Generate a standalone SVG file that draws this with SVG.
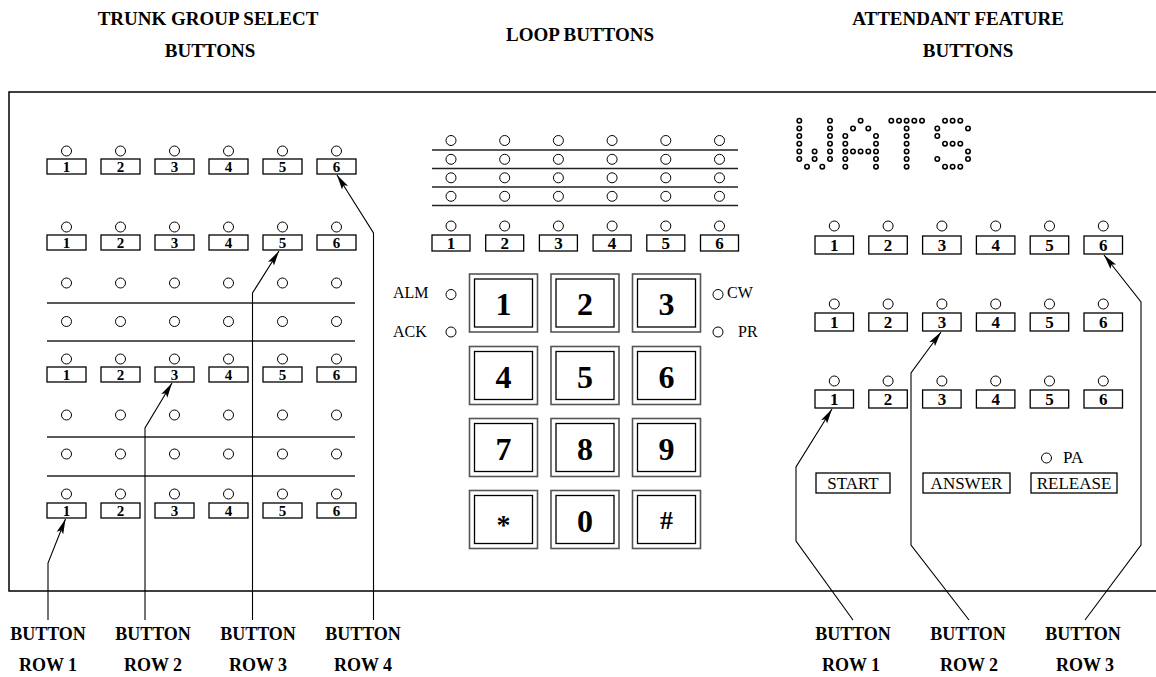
<svg xmlns="http://www.w3.org/2000/svg" width="1156" height="677" viewBox="0 0 1156 677">
<style>
.t{font-family:"Liberation Serif","Times New Roman",serif;font-weight:bold;fill:#000}
.r{font-family:"Liberation Serif","Times New Roman",serif;fill:#000}
.lamp{fill:#fff;stroke:#000;stroke-width:1}
.box{fill:#fff;stroke:#000;stroke-width:1.3}
.sep{stroke:#222;stroke-width:1.3;fill:none}
.ko{fill:#fff;stroke:#555;stroke-width:1.6}
.ki{fill:#fff;stroke:#000;stroke-width:1.3}
.dot{fill:#fff;stroke:#000;stroke-width:1.6}
.ld{fill:none;stroke:#000;stroke-width:1.1}
</style>
<defs>
<marker id="ah" markerUnits="userSpaceOnUse" markerWidth="16" markerHeight="8" refX="15" refY="4" orient="auto">
<path d="M0,0.5 L15,4 L0,7.5 L3,4 z" fill="#000"/>
</marker>
<g id="lp"><circle class="lamp" r="5"/></g>
</defs>
<rect width="1156" height="677" fill="#fff"/>

<g id="titles">
<text class="t" x="208" y="25" font-size="19" text-anchor="middle">TRUNK GROUP SELECT</text>
<text class="t" x="210" y="57" font-size="19" text-anchor="middle">BUTTONS</text>
<text class="t" x="580" y="41" font-size="19" text-anchor="middle">LOOP BUTTONS</text>
<text class="t" x="958" y="25" font-size="19" text-anchor="middle">ATTENDANT FEATURE</text>
<text class="t" x="968" y="57" font-size="19" text-anchor="middle">BUTTONS</text>
</g>

<g id="frame">
<path d="M1160,92 L9,92 L9,591 L1160,591" fill="none" stroke="#000" stroke-width="1.5"/>
</g>

<g id="trunk-buttons">
<g id="trunk-row1">
<use href="#lp" x="66.5" y="151"/><use href="#lp" x="120.5" y="151"/><use href="#lp" x="174.5" y="151"/><use href="#lp" x="228.5" y="151"/><use href="#lp" x="282.5" y="151"/><use href="#lp" x="336.5" y="151"/>
<rect class="box" x="47" y="159" width="39" height="15"/><rect class="box" x="101" y="159" width="39" height="15"/><rect class="box" x="155" y="159" width="39" height="15"/><rect class="box" x="209" y="159" width="39" height="15"/><rect class="box" x="263" y="159" width="39" height="15"/><rect class="box" x="317" y="159" width="39" height="15"/>
<g class="t" font-size="15" text-anchor="middle"><text x="66.5" y="172">1</text><text x="120.5" y="172">2</text><text x="174.5" y="172">3</text><text x="228.5" y="172">4</text><text x="282.5" y="172">5</text><text x="336.5" y="172">6</text></g>
</g>
<g id="trunk-row2">
<use href="#lp" x="66.5" y="227"/><use href="#lp" x="120.5" y="227"/><use href="#lp" x="174.5" y="227"/><use href="#lp" x="228.5" y="227"/><use href="#lp" x="282.5" y="227"/><use href="#lp" x="336.5" y="227"/>
<rect class="box" x="47" y="235" width="39" height="15"/><rect class="box" x="101" y="235" width="39" height="15"/><rect class="box" x="155" y="235" width="39" height="15"/><rect class="box" x="209" y="235" width="39" height="15"/><rect class="box" x="263" y="235" width="39" height="15"/><rect class="box" x="317" y="235" width="39" height="15"/>
<g class="t" font-size="15" text-anchor="middle"><text x="66.5" y="248">1</text><text x="120.5" y="248">2</text><text x="174.5" y="248">3</text><text x="228.5" y="248">4</text><text x="282.5" y="248">5</text><text x="336.5" y="248">6</text></g>
</g>
<g id="trunk-lamps-a">
<use href="#lp" x="66.5" y="283"/><use href="#lp" x="120.5" y="283"/><use href="#lp" x="174.5" y="283"/><use href="#lp" x="228.5" y="283"/><use href="#lp" x="282.5" y="283"/><use href="#lp" x="336.5" y="283"/>
<line class="sep" x1="47" y1="303" x2="355" y2="303"/>
<use href="#lp" x="66.5" y="321.5"/><use href="#lp" x="120.5" y="321.5"/><use href="#lp" x="174.5" y="321.5"/><use href="#lp" x="228.5" y="321.5"/><use href="#lp" x="282.5" y="321.5"/><use href="#lp" x="336.5" y="321.5"/>
<line class="sep" x1="47" y1="341" x2="355" y2="341"/>
</g>
<g id="trunk-row3">
<use href="#lp" x="66.5" y="359"/><use href="#lp" x="120.5" y="359"/><use href="#lp" x="174.5" y="359"/><use href="#lp" x="228.5" y="359"/><use href="#lp" x="282.5" y="359"/><use href="#lp" x="336.5" y="359"/>
<rect class="box" x="47" y="367" width="39" height="15"/><rect class="box" x="101" y="367" width="39" height="15"/><rect class="box" x="155" y="367" width="39" height="15"/><rect class="box" x="209" y="367" width="39" height="15"/><rect class="box" x="263" y="367" width="39" height="15"/><rect class="box" x="317" y="367" width="39" height="15"/>
<g class="t" font-size="15" text-anchor="middle"><text x="66.5" y="380">1</text><text x="120.5" y="380">2</text><text x="174.5" y="380">3</text><text x="228.5" y="380">4</text><text x="282.5" y="380">5</text><text x="336.5" y="380">6</text></g>
</g>
<g id="trunk-lamps-b">
<use href="#lp" x="66.5" y="415"/><use href="#lp" x="120.5" y="415"/><use href="#lp" x="174.5" y="415"/><use href="#lp" x="228.5" y="415"/><use href="#lp" x="282.5" y="415"/><use href="#lp" x="336.5" y="415"/>
<line class="sep" x1="47" y1="437" x2="355" y2="437"/>
<use href="#lp" x="66.5" y="454"/><use href="#lp" x="120.5" y="454"/><use href="#lp" x="174.5" y="454"/><use href="#lp" x="228.5" y="454"/><use href="#lp" x="282.5" y="454"/><use href="#lp" x="336.5" y="454"/>
<line class="sep" x1="47" y1="476" x2="355" y2="476"/>
</g>
<g id="trunk-row4">
<use href="#lp" x="66.5" y="494"/><use href="#lp" x="120.5" y="494"/><use href="#lp" x="174.5" y="494"/><use href="#lp" x="228.5" y="494"/><use href="#lp" x="282.5" y="494"/><use href="#lp" x="336.5" y="494"/>
<rect class="box" x="47" y="503" width="39" height="15"/><rect class="box" x="101" y="503" width="39" height="15"/><rect class="box" x="155" y="503" width="39" height="15"/><rect class="box" x="209" y="503" width="39" height="15"/><rect class="box" x="263" y="503" width="39" height="15"/><rect class="box" x="317" y="503" width="39" height="15"/>
<g class="t" font-size="15" text-anchor="middle"><text x="66.5" y="516">1</text><text x="120.5" y="516">2</text><text x="174.5" y="516">3</text><text x="228.5" y="516">4</text><text x="282.5" y="516">5</text><text x="336.5" y="516">6</text></g>
</g>
</g>

<g id="loop-buttons">
<g id="loop-lamps">
<use href="#lp" x="451" y="140.5"/><use href="#lp" x="504.7" y="140.5"/><use href="#lp" x="558.4" y="140.5"/><use href="#lp" x="612.1" y="140.5"/><use href="#lp" x="665.8" y="140.5"/><use href="#lp" x="719.5" y="140.5"/>
<line class="sep" x1="432" y1="150" x2="738" y2="150" stroke="#777"/>
<use href="#lp" x="451" y="159.3"/><use href="#lp" x="504.7" y="159.3"/><use href="#lp" x="558.4" y="159.3"/><use href="#lp" x="612.1" y="159.3"/><use href="#lp" x="665.8" y="159.3"/><use href="#lp" x="719.5" y="159.3"/>
<line class="sep" x1="432" y1="168.5" x2="738" y2="168.5"/>
<use href="#lp" x="451" y="177.8"/><use href="#lp" x="504.7" y="177.8"/><use href="#lp" x="558.4" y="177.8"/><use href="#lp" x="612.1" y="177.8"/><use href="#lp" x="665.8" y="177.8"/><use href="#lp" x="719.5" y="177.8"/>
<line class="sep" x1="432" y1="187" x2="738" y2="187"/>
<use href="#lp" x="451" y="196.3"/><use href="#lp" x="504.7" y="196.3"/><use href="#lp" x="558.4" y="196.3"/><use href="#lp" x="612.1" y="196.3"/><use href="#lp" x="665.8" y="196.3"/><use href="#lp" x="719.5" y="196.3"/>
<line class="sep" x1="432" y1="205.5" x2="738" y2="205.5"/>
</g>
<g id="loop-row">
<use href="#lp" x="451" y="226"/><use href="#lp" x="504.7" y="226"/><use href="#lp" x="558.4" y="226"/><use href="#lp" x="612.1" y="226"/><use href="#lp" x="665.8" y="226"/><use href="#lp" x="719.5" y="226"/>
<rect class="box" x="432" y="235" width="38" height="16"/><rect class="box" x="485.7" y="235" width="38" height="16"/><rect class="box" x="539.4" y="235" width="38" height="16"/><rect class="box" x="593.1" y="235" width="38" height="16"/><rect class="box" x="646.8" y="235" width="38" height="16"/><rect class="box" x="700.5" y="235" width="38" height="16"/>
<g class="t" font-size="17" text-anchor="middle"><text x="451" y="249">1</text><text x="504.7" y="249">2</text><text x="558.4" y="249">3</text><text x="612.1" y="249">4</text><text x="665.8" y="249">5</text><text x="719.5" y="249">6</text></g>
</g>
</g>

<g id="indicators">
<text class="r" x="393" y="298" font-size="16">ALM</text><use href="#lp" x="451" y="294.5"/>
<text class="r" x="393" y="337" font-size="16">ACK</text><use href="#lp" x="451" y="332"/>
<use href="#lp" x="718" y="294.5"/><text class="r" x="727" y="298" font-size="16">CW</text>
<use href="#lp" x="718" y="332"/><text class="r" x="738" y="337" font-size="16">PR</text>
</g>

<g id="keypad">
<g id="key-1"><rect class="ko" x="469.5" y="274" width="68" height="58"/><rect class="ki" x="474.5" y="279" width="58" height="48"/><text class="t" x="503.5" y="315" font-size="32" text-anchor="middle">1</text></g>
<g id="key-2"><rect class="ko" x="551" y="274" width="68" height="58"/><rect class="ki" x="556" y="279" width="58" height="48"/><text class="t" x="585" y="315" font-size="32" text-anchor="middle">2</text></g>
<g id="key-3"><rect class="ko" x="632.5" y="274" width="68" height="58"/><rect class="ki" x="637.5" y="279" width="58" height="48"/><text class="t" x="666.5" y="315" font-size="32" text-anchor="middle">3</text></g>
<g id="key-4"><rect class="ko" x="469.5" y="346.5" width="68" height="58"/><rect class="ki" x="474.5" y="351.5" width="58" height="48"/><text class="t" x="503.5" y="387.5" font-size="32" text-anchor="middle">4</text></g>
<g id="key-5"><rect class="ko" x="551" y="346.5" width="68" height="58"/><rect class="ki" x="556" y="351.5" width="58" height="48"/><text class="t" x="585" y="387.5" font-size="32" text-anchor="middle">5</text></g>
<g id="key-6"><rect class="ko" x="632.5" y="346.5" width="68" height="58"/><rect class="ki" x="637.5" y="351.5" width="58" height="48"/><text class="t" x="666.5" y="387.5" font-size="32" text-anchor="middle">6</text></g>
<g id="key-7"><rect class="ko" x="469.5" y="418.5" width="68" height="58"/><rect class="ki" x="474.5" y="423.5" width="58" height="48"/><text class="t" x="503.5" y="459.5" font-size="32" text-anchor="middle">7</text></g>
<g id="key-8"><rect class="ko" x="551" y="418.5" width="68" height="58"/><rect class="ki" x="556" y="423.5" width="58" height="48"/><text class="t" x="585" y="459.5" font-size="32" text-anchor="middle">8</text></g>
<g id="key-9"><rect class="ko" x="632.5" y="418.5" width="68" height="58"/><rect class="ki" x="637.5" y="423.5" width="58" height="48"/><text class="t" x="666.5" y="459.5" font-size="32" text-anchor="middle">9</text></g>
<g id="key-star"><rect class="ko" x="469.5" y="490.5" width="68" height="58"/><rect class="ki" x="474.5" y="495.5" width="58" height="48"/><text class="t" x="503.5" y="534" font-size="28" text-anchor="middle">*</text></g>
<g id="key-0"><rect class="ko" x="551" y="490.5" width="68" height="58"/><rect class="ki" x="556" y="495.5" width="58" height="48"/><text class="t" x="585" y="531.5" font-size="32" text-anchor="middle">0</text></g>
<g id="key-hash"><rect class="ko" x="632.5" y="490.5" width="68" height="58"/><rect class="ki" x="637.5" y="495.5" width="58" height="48"/><text class="t" x="666.5" y="529" font-size="26" text-anchor="middle">#</text></g>
</g>

<g id="wats-display">
<g class="dot">
<circle cx="799.3" cy="120.7" r="2.2"/><circle cx="799.3" cy="128.4" r="2.2"/><circle cx="799.3" cy="136" r="2.2"/><circle cx="799.3" cy="143.7" r="2.2"/><circle cx="799.3" cy="151.4" r="2.2"/><circle cx="799.3" cy="159" r="2.2"/>
<circle cx="830" cy="120.7" r="2.2"/><circle cx="830" cy="128.4" r="2.2"/><circle cx="830" cy="136" r="2.2"/><circle cx="830" cy="143.7" r="2.2"/><circle cx="830" cy="151.4" r="2.2"/><circle cx="830" cy="159" r="2.2"/>
<circle cx="807" cy="166.7" r="2.2"/><circle cx="822.3" cy="166.7" r="2.2"/><circle cx="814.6" cy="151.4" r="2.2"/><circle cx="814.6" cy="159" r="2.2"/>
<circle cx="860.6" cy="120.7" r="2.2"/><circle cx="853" cy="128.4" r="2.2"/><circle cx="868.3" cy="128.4" r="2.2"/>
<circle cx="845.3" cy="136" r="2.2"/><circle cx="845.3" cy="143.7" r="2.2"/><circle cx="845.3" cy="151.4" r="2.2"/><circle cx="845.3" cy="159" r="2.2"/><circle cx="845.3" cy="166.7" r="2.2"/>
<circle cx="876" cy="136" r="2.2"/><circle cx="876" cy="143.7" r="2.2"/><circle cx="876" cy="151.4" r="2.2"/><circle cx="876" cy="159" r="2.2"/><circle cx="876" cy="166.7" r="2.2"/>
<circle cx="853" cy="151.4" r="2.2"/><circle cx="860.6" cy="151.4" r="2.2"/><circle cx="868.3" cy="151.4" r="2.2"/>
<circle cx="891.3" cy="120.7" r="2.2"/><circle cx="899" cy="120.7" r="2.2"/><circle cx="906.6" cy="120.7" r="2.2"/><circle cx="914.3" cy="120.7" r="2.2"/><circle cx="922" cy="120.7" r="2.2"/>
<circle cx="906.6" cy="128.4" r="2.2"/><circle cx="906.6" cy="136" r="2.2"/><circle cx="906.6" cy="143.7" r="2.2"/><circle cx="906.6" cy="151.4" r="2.2"/><circle cx="906.6" cy="159" r="2.2"/><circle cx="906.6" cy="166.7" r="2.2"/>
<circle cx="945" cy="120.7" r="2.2"/><circle cx="952.6" cy="120.7" r="2.2"/><circle cx="960.3" cy="120.7" r="2.2"/>
<circle cx="937.3" cy="128.4" r="2.2"/><circle cx="968" cy="128.4" r="2.2"/><circle cx="937.3" cy="136" r="2.2"/>
<circle cx="945" cy="143.7" r="2.2"/><circle cx="952.6" cy="143.7" r="2.2"/><circle cx="960.3" cy="143.7" r="2.2"/>
<circle cx="968" cy="151.4" r="2.2"/><circle cx="937.3" cy="159" r="2.2"/><circle cx="968" cy="159" r="2.2"/>
<circle cx="945" cy="166.7" r="2.2"/><circle cx="952.6" cy="166.7" r="2.2"/><circle cx="960.3" cy="166.7" r="2.2"/>
</g>
</g>

<g id="attendant-buttons">
<g id="att-row1">
<use href="#lp" x="834.3" y="226"/><use href="#lp" x="888.1" y="226"/><use href="#lp" x="941.9" y="226"/><use href="#lp" x="995.7" y="226"/><use href="#lp" x="1049.5" y="226"/><use href="#lp" x="1103.3" y="226"/>
<rect class="box" x="815" y="236" width="38.5" height="18"/><rect class="box" x="868.8" y="236" width="38.5" height="18"/><rect class="box" x="922.6" y="236" width="38.5" height="18"/><rect class="box" x="976.4" y="236" width="38.5" height="18"/><rect class="box" x="1030.2" y="236" width="38.5" height="18"/><rect class="box" x="1084" y="236" width="38.5" height="18"/>
<g class="t" font-size="17" text-anchor="middle"><text x="834.3" y="251">1</text><text x="888.1" y="251">2</text><text x="941.9" y="251">3</text><text x="995.7" y="251">4</text><text x="1049.5" y="251">5</text><text x="1103.3" y="251">6</text></g>
</g>
<g id="att-row2">
<use href="#lp" x="834.3" y="304"/><use href="#lp" x="888.1" y="304"/><use href="#lp" x="941.9" y="304"/><use href="#lp" x="995.7" y="304"/><use href="#lp" x="1049.5" y="304"/><use href="#lp" x="1103.3" y="304"/>
<rect class="box" x="815" y="313" width="38.5" height="18"/><rect class="box" x="868.8" y="313" width="38.5" height="18"/><rect class="box" x="922.6" y="313" width="38.5" height="18"/><rect class="box" x="976.4" y="313" width="38.5" height="18"/><rect class="box" x="1030.2" y="313" width="38.5" height="18"/><rect class="box" x="1084" y="313" width="38.5" height="18"/>
<g class="t" font-size="17" text-anchor="middle"><text x="834.3" y="328">1</text><text x="888.1" y="328">2</text><text x="941.9" y="328">3</text><text x="995.7" y="328">4</text><text x="1049.5" y="328">5</text><text x="1103.3" y="328">6</text></g>
</g>
<g id="att-row3">
<use href="#lp" x="834.3" y="381"/><use href="#lp" x="888.1" y="381"/><use href="#lp" x="941.9" y="381"/><use href="#lp" x="995.7" y="381"/><use href="#lp" x="1049.5" y="381"/><use href="#lp" x="1103.3" y="381"/>
<rect class="box" x="815" y="390" width="38.5" height="18"/><rect class="box" x="868.8" y="390" width="38.5" height="18"/><rect class="box" x="922.6" y="390" width="38.5" height="18"/><rect class="box" x="976.4" y="390" width="38.5" height="18"/><rect class="box" x="1030.2" y="390" width="38.5" height="18"/><rect class="box" x="1084" y="390" width="38.5" height="18"/>
<g class="t" font-size="17" text-anchor="middle"><text x="834.3" y="405">1</text><text x="888.1" y="405">2</text><text x="941.9" y="405">3</text><text x="995.7" y="405">4</text><text x="1049.5" y="405">5</text><text x="1103.3" y="405">6</text></g>
</g>
<g id="att-controls">
<use href="#lp" x="1046.5" y="458"/><text class="r" x="1063" y="463" font-size="17">PA</text>
<rect class="box" x="816" y="473" width="74" height="20"/><text class="r" x="853" y="489" font-size="17" text-anchor="middle">START</text>
<rect class="box" x="923" y="473" width="87" height="20"/><text class="r" x="966.5" y="489" font-size="17" text-anchor="middle">ANSWER</text>
<rect class="box" x="1031" y="473" width="86" height="20"/><text class="r" x="1074" y="489" font-size="17" text-anchor="middle">RELEASE</text>
</g>
</g>

<g id="connectors" class="ld">
<path d="M48,620 L48,563 L65.5,519" marker-end="url(#ah)"/>
<path d="M145,620 L145,428 L172,383" marker-end="url(#ah)"/>
<path d="M252.5,620 L252.5,293 L279,251" marker-end="url(#ah)"/>
<path d="M373.5,620 L373.5,233 L337,175" marker-end="url(#ah)"/>
<path d="M853,620 L796,541 L796,467 L832,409" marker-end="url(#ah)"/>
<path d="M969,620 L911,545 L911,373 L941,332" marker-end="url(#ah)"/>
<path d="M1085,620 L1141,545 L1141,302 L1104,255" marker-end="url(#ah)"/>
</g>

<g id="labels" class="t" font-size="18" text-anchor="middle">
<text x="48" y="640">BUTTON</text><text x="48" y="671">ROW 1</text>
<text x="153" y="640">BUTTON</text><text x="153" y="671">ROW 2</text>
<text x="258" y="640">BUTTON</text><text x="258" y="671">ROW 3</text>
<text x="363" y="640">BUTTON</text><text x="363" y="671">ROW 4</text>
<text x="853" y="640">BUTTON</text><text x="851" y="671">ROW 1</text>
<text x="968" y="640">BUTTON</text><text x="969" y="671">ROW 2</text>
<text x="1083" y="640">BUTTON</text><text x="1085" y="671">ROW 3</text>
</g>
</svg>
